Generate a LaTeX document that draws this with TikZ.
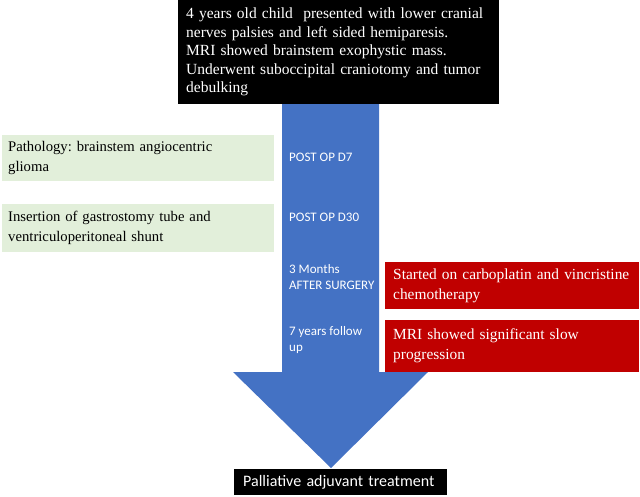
\documentclass[tikz,border=0pt]{standalone}
\usepackage{fontspec}
\setmainfont{Liberation Serif}
\newfontfamily\calibri{Carlito}
\usepackage{tikz}
\usetikzlibrary{positioning, calc}
\definecolor{arrowblue}{HTML}{4472C4}
\definecolor{pathgreen}{HTML}{E2EFDA}
\definecolor{chemored}{HTML}{C00000}
\frenchspacing

\begin{document}
\begin{tikzpicture}
    [x=1pt, y=-1pt,
     my box/.style={anchor=north west, inner ysep=0pt, align=left,
       font=\fontsize{15}{20}\selectfont},
     black box/.style={my box, fill=black, text=white},
     green box/.style={my box, fill=pathgreen, inner xsep=6pt,
       text width=260pt, minimum width=272pt, font=\fontsize{14.7}{20}\selectfont},
     red box/.style={my box, fill=chemored, text=white, inner xsep=8pt,
       text width=238pt, minimum width=254pt, font=\fontsize{15.4}{20}\selectfont},
     time label/.style={anchor=west, align=left, text=white, inner sep=2pt,
       font=\calibri\fontsize{13}{16.5}\selectfont}]
    \useasboundingbox (0,0) rectangle (640,497);

    % big arrow
    \fill[arrowblue] (282,100) -- (379,100) -- (379,372) -- (428,372)
      -- (331,468) -- (233,372) -- (282,372) -- cycle;

    \node[black box, inner xsep=8pt, text width=305pt, minimum width=321pt,
      minimum height=104pt, font=\fontsize{15.5}{18.5}\selectfont] (start) at (178,0)
      {4 years old child \ presented with lower cranial\\
       nerves palsies and left sided hemiparesis.\\
       MRI showed brainstem exophystic mass.\\
       Underwent suboccipital craniotomy and tumor\\
       debulking};

    \node[green box, minimum height=46pt] (patho) at (2,135)
      {Pathology: brainstem angiocentric\\glioma};
    \node[green box, minimum height=48pt] (shunt) at (2,204)
      {Insertion of gastrostomy tube and\\ventriculoperitoneal shunt};

    \node[red box, minimum height=47pt] (chemo) at (385,262)
      {Started on carboplatin and vincristine\\chemotherapy};
    \node[red box, minimum height=52pt] (mri) at (385,320)
      {MRI showed significant slow\\progression};

    \node[time label] (d7) at (287,157) {POST OP D7};
    \node[time label] (d30) at (287,217) {POST OP D30};
    \node[time label] (months) at (287,277) {3 Months\\AFTER SURGERY};
    \node[time label] (years) at (287,340) {7 years follow\\up};

    \node[black box, inner xsep=9pt, text width=195pt, minimum width=213pt,
      minimum height=26pt, font=\calibri\fontsize{16}{18}\selectfont] (end) at (234,469)
      {Palliative adjuvant treatment};
  \end{tikzpicture}
\end{document}
